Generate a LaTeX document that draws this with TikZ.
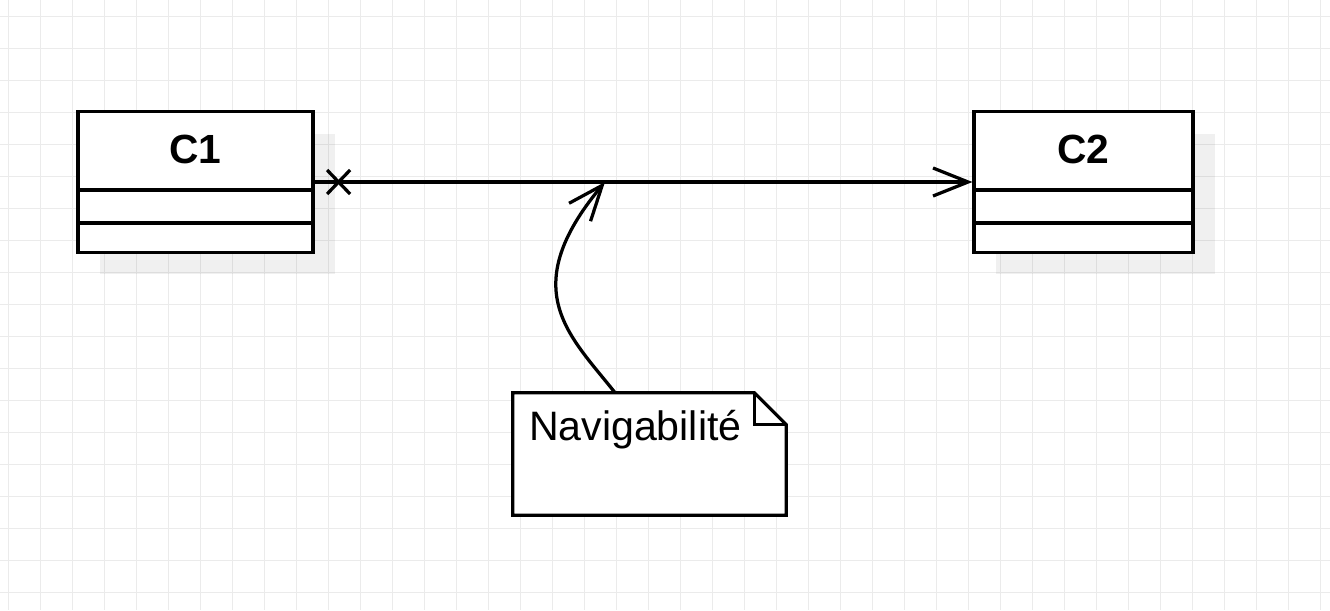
\documentclass[tikz,border=0pt]{standalone}
\usepackage{fontspec}
\setmainfont{Liberation Sans}
\usepackage{xcolor}
\usepackage{tikz}
\usetikzlibrary{arrows.meta,shadows}

\begin{document}
\begin{tikzpicture}[x=0.02cm,y=-0.02cm,
  umlline/.style={line width=0.065cm,black},
  classbox/.style={draw,umlline,fill=white,minimum height=2.82cm,inner sep=0pt,
    drop shadow={shadow xshift=0.44cm,shadow yshift=-0.44cm,fill=black,opacity=0.06}},
  bigfont/.style={font=\fontsize{23.4}{27}\selectfont},
  classname/.style={font=\bfseries\fontsize{23.2}{27}\selectfont},
  navarrow/.style={-{Straight Barb[length=0.7cm,width=0.56cm]}}]
\useasboundingbox (0,0) rectangle (1330,610);
% background grid
\foreach \x in {8,40,...,1320} \draw[black!8,line width=0.02cm] (\x,0) -- (\x,610);
\foreach \y in {16,48,...,592} \draw[black!8,line width=0.02cm] (0,\y) -- (1330,\y);

% classes
\node[classbox,minimum width=4.7cm] (c1) at (195.5,182) {};
\node[classbox,minimum width=4.38cm] (c2) at (1083.5,182) {};
\node[classname] (c1name) at ([yshift=-0.8cm]c1.north) {C1};
\node[classname] (c2name) at ([yshift=-0.8cm]c2.north) {C2};
\foreach \c in {c1,c2} {
  \draw[umlline] ([yshift=-1.6cm]\c.north west) -- ([yshift=-1.6cm]\c.north east); % attributes
  \draw[umlline] ([yshift=-2.26cm]\c.north west) -- ([yshift=-2.26cm]\c.north east); % operations
}

% association, not navigable on the C1 side
\draw[umlline,navarrow] (c1.east) -- (c2.west);
\coordinate (cross) at ([xshift=0.48cm]c1.east);
\draw[umlline] ([shift={(-0.23cm,0.24cm)}]cross) -- ([shift={(0.23cm,-0.24cm)}]cross);
\draw[umlline] ([shift={(-0.23cm,-0.24cm)}]cross) -- ([shift={(0.23cm,0.24cm)}]cross);

% note
\node[minimum width=5.46cm,minimum height=2.44cm,inner sep=0pt] (note) at (649.5,454) {};
\draw[umlline,fill=white] (note.north west) -- ([xshift=-0.64cm]note.north east)
  -- ([yshift=-0.64cm]note.north east) -- (note.south east) -- (note.south west) -- cycle;
\draw[umlline] ([xshift=-0.64cm]note.north east) |- ([yshift=-0.64cm]note.north east);
\node[bigfont,anchor=base west,inner sep=0pt] (notetext) at ([shift={(0.32cm,-0.96cm)}]note.north west) {Navigabilité};

\coordinate (navtip) at (605,182);
\draw[umlline,navarrow] ([xshift=-0.69cm]note.north) .. controls +(-45,-57) and +(-90,108) .. (navtip);
\end{tikzpicture}
\end{document}
